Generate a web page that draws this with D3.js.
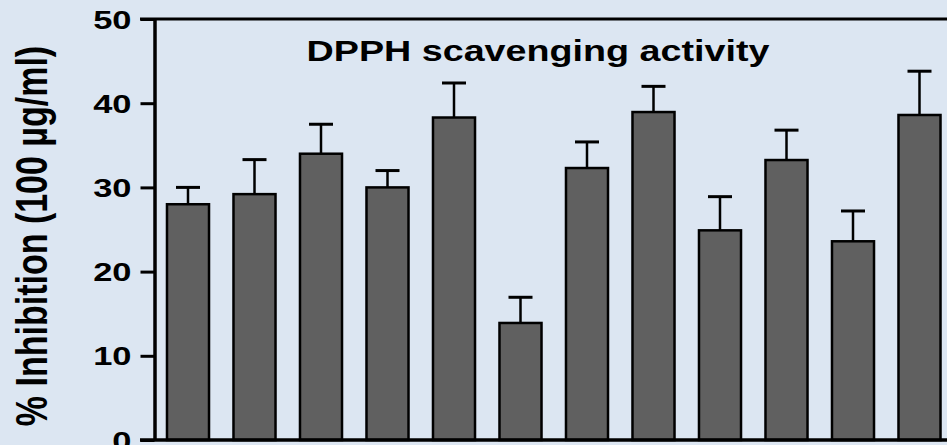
<!DOCTYPE html>
<html>
<head>
<meta charset="utf-8">
<script src="https://cdn.jsdelivr.net/npm/d3@7"></script>
<style>
  html, body { margin: 0; padding: 0; background: #dce6f2; }
  svg { display: block; font-family: Arial, "Liberation Sans", sans-serif; }
</style>
</head>
<body>
<svg id="chart" width="947" height="445"></svg>
<script>
// samples (no x labels in the figure)
const samples = ["S1", "S2", "S3", "S4", "S5", "S6", "S7", "S8", "S9", "S10", "S11", "S12"];
const inhibition = [28.0, 29.2, 34.0, 30.0, 38.3, 13.9, 32.3, 38.95, 24.9, 33.25, 23.6, 38.6];
const errors = [2.0, 4.1, 3.5, 2.0, 4.1, 3.05, 3.1, 3.05, 4.0, 3.55, 3.6, 5.2];
const yTicks = [0, 10, 20, 30, 40, 50];

const svg = d3.select("#chart");
const W = 947, H = 445;
const stretch = 1.3; // the text in the source is stretched sideways
const font = "Arial, 'Liberation Sans', sans-serif";

const y = d3.scaleLinear().domain([0, 50]).range([440, 19]);
const x = d3.scaleBand()
  .domain(samples)
  .range([154.75, 154.75 + samples.length * 66.5])
  .paddingInner(0.368)
  .paddingOuter(0.184);

// bars
svg.selectAll(".bar")
  .data(samples)
  .enter().append("rect")
  .attr("class", "bar")
  .attr("x", d => x(d))
  .attr("y", (d, i) => y(inhibition[i]))
  .attr("width", x.bandwidth())
  .attr("height", (d, i) => y(0) - y(inhibition[i]))
  .attr("fill", "#606060")
  .attr("stroke", "#000")
  .attr("stroke-width", 2.5);

// error bars (upper half only)
const err = svg.selectAll(".err")
  .data(samples)
  .enter().append("g")
  .attr("class", "err");

err.append("line")
  .attr("x1", d => x(d) + x.bandwidth() / 2)
  .attr("x2", d => x(d) + x.bandwidth() / 2)
  .attr("y1", (d, i) => y(inhibition[i]))
  .attr("y2", (d, i) => y(inhibition[i] + errors[i]))
  .attr("stroke", "#000")
  .attr("stroke-width", 2.5);

err.append("line")
  .attr("x1", d => x(d) + x.bandwidth() / 2 - 12)
  .attr("x2", d => x(d) + x.bandwidth() / 2 + 12)
  .attr("y1", (d, i) => y(inhibition[i] + errors[i]))
  .attr("y2", (d, i) => y(inhibition[i] + errors[i]))
  .attr("stroke", "#000")
  .attr("stroke-width", 3);

// frame lines: top and bottom
svg.append("line")
  .attr("x1", 140).attr("x2", W)
  .attr("y1", y(50)).attr("y2", y(50))
  .attr("stroke", "#000").attr("stroke-width", 3);
svg.append("line")
  .attr("x1", 140).attr("x2", W)
  .attr("y1", y(0)).attr("y2", y(0))
  .attr("stroke", "#000").attr("stroke-width", 3.5);

// y axis
const yAxis = svg.append("g")
  .attr("transform", "translate(154.5,0)")
  .call(d3.axisLeft(y).tickValues(yTicks).tickSize(14).tickSizeOuter(0).tickFormat(d3.format("d")));
yAxis.attr("font-family", font);
yAxis.select(".domain").attr("stroke", "#000").attr("stroke-width", 3.5);
yAxis.selectAll(".tick line").attr("stroke", "#000").attr("stroke-width", 3);
yAxis.selectAll(".tick text")
  .attr("x", null)
  .attr("dy", null)
  .attr("fill", "#000")
  .attr("font-family", font)
  .attr("font-size", 26.5)
  .attr("font-weight", "bold")
  .attr("dominant-baseline", "central")
  .attr("text-anchor", "end")
  .attr("transform", `translate(-23,0) scale(${stretch},1)`);

// y label
svg.append("text")
  .attr("transform", `translate(47,236) scale(${stretch},1) rotate(-90)`)
  .attr("text-anchor", "middle")
  .attr("font-size", 34)
  .attr("font-weight", "bold")
  .attr("fill", "#000")
  .text("% Inhibition (100 µg/ml)");

// title
svg.append("text")
  .attr("transform", `translate(538,61) scale(${stretch},1)`)
  .attr("text-anchor", "middle")
  .attr("font-size", 29)
  .attr("font-weight", "bold")
  .attr("fill", "#000")
  .text("DPPH scavenging activity");
</script>
</body>
</html>
